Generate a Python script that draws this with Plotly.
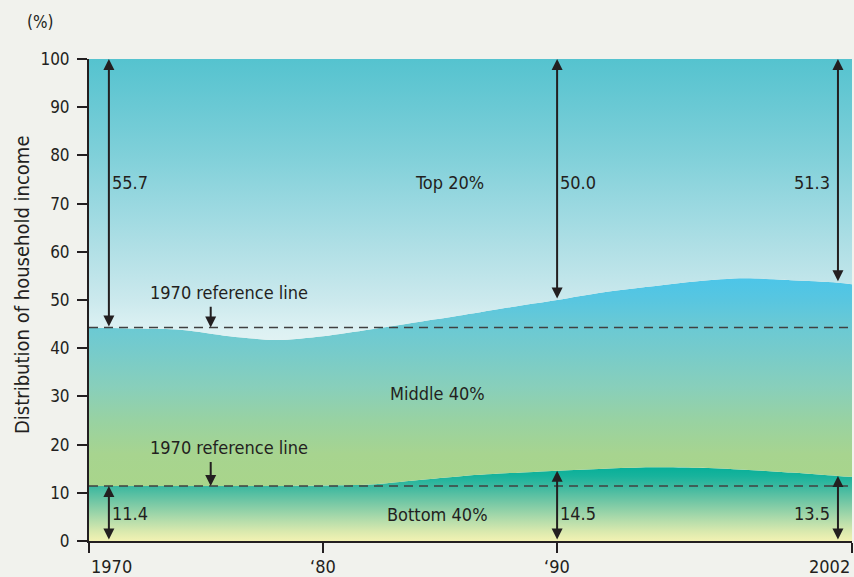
import numpy as np
import plotly.graph_objects as go

# ---------------- data ----------------
years = [1970, 1972, 1974, 1976, 1978, 1980, 1982, 1984, 1986, 1988,
         1990, 1992, 1994, 1996, 1998, 2000, 2002, 2003]
bottom_40 = [11.4, 11.4, 11.4, 11.4, 11.4, 11.5, 11.7, 12.6, 13.5, 14.1,
             14.6, 15.0, 15.3, 15.2, 14.8, 14.2, 13.5, 13.2]
middle_40 = [32.9, 32.7, 32.4, 31.1, 30.3, 31.0, 32.2, 32.8, 33.4, 34.4,
             35.4, 36.6, 37.5, 38.7, 39.7, 39.9, 40.1, 39.8]
top_20 = [55.7, 55.9, 56.2, 57.5, 58.3, 57.5, 56.1, 54.6, 53.1, 51.5,
          50.0, 48.4, 47.2, 46.1, 45.5, 45.9, 46.4, 47.0]

marked_years = [1970.85, 1990, 2002]
top_share_labels = ["55.7", "50.0", "51.3"]
bottom_share_labels = ["11.4", "14.5", "13.5"]

x_tick_vals = [1970, 1980, 1990, 2002.6]
x_tick_labels = ["1970", "\u201880", "\u201890", "2002"]
y_tick_vals = list(range(0, 101, 10))

X_START, X_END = 1970, 2002.6

FONT = "DejaVu Sans Condensed, Liberation Sans Narrow, Liberation Sans, sans-serif"
INK = "#231f20"
BG = "#f1f2ed"

b = np.array(bottom_40)
m = b + np.array(middle_40)
t = m + np.array(top_20)

fig = go.Figure()
line_style = dict(width=0, shape="spline", smoothing=0.8)

fig.add_trace(go.Scatter(
    x=years, y=b, mode="lines", line=line_style, fill="tozeroy",
    fillgradient=dict(type="vertical", start=0, stop=16,
                      colorscale=[[0.0, "#f2f2b3"], [0.125, "#d9e9ae"],
                                  [0.31, "#a9d9aa"], [0.5, "#75c8a5"],
                                  [0.69, "#40b9a0"], [0.84, "#18b39c"],
                                  [1.0, "#00ae98"]]),
    hoverinfo="skip", showlegend=False))

fig.add_trace(go.Scatter(
    x=years, y=m, mode="lines", line=line_style, fill="tonexty",
    fillgradient=dict(type="vertical", start=10, stop=56,
                      colorscale=[[0.0, "#a9d58a"], [(18-10)/46, "#a7d48f"],
                                  [(25-10)/46, "#98d2a2"], [(32-10)/46, "#88cfbb"],
                                  [(40-10)/46, "#75cbcc"], [(45-10)/46, "#69c9d5"],
                                  [(50-10)/46, "#58c6e0"], [1.0, "#48c5eb"]]),
    hoverinfo="skip", showlegend=False))

fig.add_trace(go.Scatter(
    x=years, y=t, mode="lines", line=line_style, fill="tonexty",
    fillgradient=dict(type="vertical", start=40, stop=100,
                      colorscale=[[0.0, "#e4f3f4"], [5/60, "#daf0f2"],
                                  [10/60, "#cbe9ed"], [20/60, "#b2e0e6"],
                                  [30/60, "#99d8e0"], [40/60, "#80d0d9"],
                                  [50/60, "#6ac9d4"], [1.0, "#55c3cf"]]),
    hoverinfo="skip", showlegend=False))

# 1970 reference lines
for ref in (m[0], b[0]):
    fig.add_shape(type="line", xref="x", yref="y", x0=X_START, x1=X_END,
                  y0=ref, y1=ref, line=dict(color="#404040", width=1.5, dash="9px,6px"))

def interp(arr, x):
    return float(np.interp(x, years, arr))

ann = []
# double-headed share arrows
for i, yr in enumerate(marked_years):
    mtop = interp(m, yr)
    btop = interp(b, yr)
    for y_end, y_start in ((100, mtop), (btop, 0)):
        ann.append(dict(x=yr, y=y_end, ax=yr, ay=y_start, xref="x", yref="y",
                        axref="x", ayref="y", text="", showarrow=True,
                        arrowside="end+start", arrowhead=2, startarrowhead=2,
                        arrowsize=1.1, startarrowsize=1.1, arrowwidth=2,
                        arrowcolor=INK, standoff=0, startstandoff=0))
    anchor = "right" if i == len(marked_years) - 1 else "left"
    shift = -6 if anchor == "right" else 1
    ann.append(dict(x=yr, y=74.3, xref="x", yref="y", text=top_share_labels[i],
                    showarrow=False, xanchor=anchor, xshift=shift))
    ann.append(dict(x=yr, y=5.8, xref="x", yref="y", text=bottom_share_labels[i],
                    showarrow=False, xanchor=anchor, xshift=shift))

# region labels
ann.append(dict(x=1985.4, y=74.3, xref="x", yref="y", text="Top 20%", showarrow=False))
ann.append(dict(x=1984.9, y=30.7, xref="x", yref="y", text="Middle 40%", showarrow=False))
ann.append(dict(x=1984.9, y=5.6, xref="x", yref="y", text="Bottom 40%", showarrow=False))

# reference-line callouts
for ref, ty in ((m[0], 51.5), (b[0], 19.3)):
    ann.append(dict(x=1976.0, y=ty, xref="x", yref="y", text="1970 reference line",
                    showarrow=False))
    ann.append(dict(x=1975.2, y=ref, ax=1975.2, ay=ty - 2.6, xref="x", yref="y",
                    axref="x", ayref="y", text="", showarrow=True, arrowhead=2,
                    arrowsize=1.1, arrowwidth=2, arrowcolor=INK, standoff=0))

# x tick labels (end labels aligned inward as in the reference)
for v, lab in zip(x_tick_vals, x_tick_labels):
    xa = "left" if v == X_START else ("right" if v == X_END else "center")
    ann.append(dict(x=v, y=0, xref="x", yref="paper", text=lab, showarrow=False,
                    xanchor=xa, yanchor="top", yshift=-13))

# unit and axis title
ann.append(dict(x=-49/763, y=1 + 37/482, xref="paper", yref="paper", text="(%)",
                showarrow=False, xanchor="center", yanchor="middle", font=dict(size=17)))
ann.append(dict(x=-67/763, y=(541-285)/482, xref="paper", yref="paper",
                text="Distribution of household income", textangle=-90,
                xanchor="center", yanchor="middle",
                showarrow=False, font=dict(size=20)))

fig.update_layout(
    width=854, height=577,
    margin=dict(l=89, r=2, t=59, b=36),
    paper_bgcolor=BG, plot_bgcolor=BG,
    font=dict(family=FONT, size=18, color=INK),
    annotations=ann,
    xaxis=dict(range=[X_START, X_END], tickvals=x_tick_vals, showticklabels=False,
               ticks="outside", ticklen=10, tickwidth=2, tickcolor=INK,
               showline=True, linecolor=INK, linewidth=2, showgrid=False,
               zeroline=False, fixedrange=True),
    yaxis=dict(range=[0, 100], tickvals=y_tick_vals, ticks="outside", ticklen=10,
               tickwidth=2, tickcolor=INK, showline=True, linecolor=INK, linewidth=2,
               showgrid=False, zeroline=False, fixedrange=True,
               tickfont=dict(size=17), ticklabelstandoff=4),
)

fig.write_html(
    "out.html",
    config={"displayModeBar": False},
    post_script=f"document.body.style.margin='0';document.body.style.background='{BG}';"
                "window.dispatchEvent(new Event('resize'));",
)
